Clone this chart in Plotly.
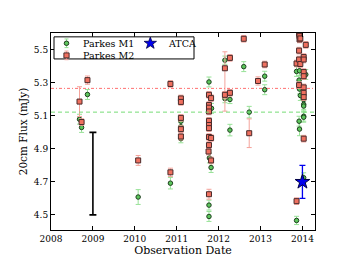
import math
import plotly.graph_objects as go

# ---- data ----
m1_x = [2008.68, 2008.73, 2008.87, 2010.08, 2010.85,
        2011.10, 2011.10, 2011.10, 2011.10,
        2011.77, 2011.83, 2011.78, 2011.82, 2011.77, 2011.77,
        2012.15, 2012.15, 2012.27, 2012.27,
        2012.60, 2012.73, 2013.10, 2013.10,
        2013.86, 2013.86,
        2013.93, 2013.92, 2013.93, 2013.92, 2013.93, 2013.95,
        2014.03, 2014.03, 2014.03, 2014.03, 2014.03, 2014.03,
        2014.08]
m1_y = [5.080, 5.030, 5.230, 4.608, 4.692,
        5.195, 5.068, 5.034, 4.962,
        5.306, 5.146, 4.845, 4.787, 4.559, 4.490,
        5.438, 5.205, 5.200, 5.014,
        5.399, 5.123, 5.341, 5.259,
        5.370, 4.466,
        5.374, 5.317, 5.263, 5.068, 5.020, 5.224,
        5.200, 5.170, 5.160, 5.098, 5.092, 4.725,
        5.351]
m1_err = [0.03, 0.03, 0.03, 0.045, 0.035,
          0.025, 0.025, 0.025, 0.025,
          0.03, 0.03, 0.03, 0.03, 0.03, 0.03,
          0.025, 0.025, 0.025, 0.035,
          0.03, 0.035, 0.03, 0.03,
          0.03, 0.025,
          0.03, 0.03, 0.03, 0.03, 0.04, 0.03,
          0.03, 0.03, 0.03, 0.03, 0.03, 0.03,
          0.03]

m2_x = [2008.68, 2008.73, 2008.87,
        2010.08, 2010.85, 2010.85,
        2011.10, 2011.10, 2011.10, 2011.10, 2011.10,
        2011.77, 2011.82, 2011.77, 2011.77, 2011.77, 2011.77, 2011.77, 2011.77,
        2011.77, 2011.82, 2011.77, 2011.76, 2011.82, 2011.77,
        2012.15, 2012.15, 2012.27, 2012.27,
        2012.60, 2012.73, 2012.94, 2013.10,
        2013.86, 2013.86,
        2013.92, 2013.93, 2013.93, 2013.92, 2013.92, 2013.92, 2013.95, 2013.95,
        2014.03, 2014.03, 2014.03, 2014.03, 2014.03, 2014.03, 2014.03, 2014.03,
        2014.08]
m2_y = [5.187, 5.063, 5.317,
        4.830, 4.758, 5.294,
        5.206, 5.185, 5.088, 5.020, 4.975,
        5.228, 5.208, 5.166, 5.150, 5.127, 5.070, 5.045, 5.026,
        4.972, 4.966, 4.923, 4.884, 4.830, 4.625,
        5.389, 5.228, 5.452, 5.240,
        5.568, 4.995, 5.312, 5.412,
        5.418, 4.583,
        5.597, 5.584, 5.564, 5.496, 5.442, 5.287, 5.570, 5.415,
        5.457, 5.442, 5.366, 5.341, 5.273, 5.240, 5.214, 4.962,
        5.531]
m2_err_plus = [0.09, 0.02, 0.025,
               0.03, 0.025, 0.02,
               0.02, 0.02, 0.02, 0.02, 0.02,
               0.02, 0.02, 0.02, 0.02, 0.02, 0.02, 0.02, 0.02,
               0.02, 0.02, 0.02, 0.02, 0.02, 0.03,
               0.10, 0.02, 0.02, 0.02,
               0.02, 0.087, 0.025, 0.02,
               0.02, 0.02,
               0.02, 0.02, 0.02, 0.02, 0.02, 0.02, 0.02, 0.02,
               0.02, 0.02, 0.02, 0.02, 0.02, 0.02, 0.02, 0.02,
               0.02]
m2_err_minus = list(m2_err_plus)
m2_err_minus[25] = 0.26

atca_x = [2014.0]
atca_y = [4.70]
atca_err = [0.10]

scale_x = [2009.0]
scale_y = [4.75]
scale_err = [0.25]

m1_mean = 5.123
m2_mean = 5.267

x_ticks = [2008, 2009, 2010, 2011, 2012, 2013, 2014]
y_ticks = [4.5, 4.7, 4.9, 5.1, 5.3, 5.5]

series_names = ["Parkes M1", "Parkes M2", "ATCA"]

FONT = "DejaVu Serif"
M1_FILL, M1_EDGE, M1_ERR = "#5cc65c", "#1f3f1f", "#98e298"
M2_FILL, M2_EDGE, M2_ERR = "#f0705f", "#4a2a2a", "#f4a39b"
ATCA_COL, ATCA_EDGE = "#0000ee", "#000044"

W, H = 341, 257
ML, MR, MT, MB = 43, 34, 25, 27
PW, PH = W - ML - MR, H - MT - MB


def px2paper(px, py):
    return (px - ML) / PW, (H - MB - py) / PH


fig = go.Figure()

fig.add_trace(go.Scatter(
    x=scale_x, y=scale_y, mode="markers",
    marker=dict(size=1, color="rgba(0,0,0,0)"),
    error_y=dict(type="data", array=scale_err, color="black", thickness=1.6, width=3.5),
    showlegend=False, hoverinfo="skip"))

fig.add_trace(go.Scatter(
    x=m1_x, y=m1_y, mode="markers", name=series_names[0], showlegend=False,
    marker=dict(symbol="circle", size=4.5, color=M1_FILL, line=dict(color=M1_EDGE, width=1)),
    error_y=dict(type="data", array=m1_err, color=M1_ERR, thickness=1, width=2.5)))

fig.add_trace(go.Scatter(
    x=m2_x, y=m2_y, mode="markers", name=series_names[1], showlegend=False,
    marker=dict(symbol="square", size=5, color=M2_FILL, line=dict(color=M2_EDGE, width=1)),
    error_y=dict(type="data", symmetric=False, array=m2_err_plus, arrayminus=m2_err_minus,
                 color=M2_ERR, thickness=1, width=2.5)))

fig.add_trace(go.Scatter(
    x=atca_x, y=atca_y, mode="markers", name=series_names[2], showlegend=False,
    marker=dict(symbol="star", size=11, color=ATCA_COL, line=dict(color=ATCA_EDGE, width=1)),
    error_y=dict(type="data", array=atca_err, color=ATCA_COL, thickness=1.3, width=3)))

fig.add_shape(type="line", xref="paper", x0=0, x1=1, yref="y", y0=m2_mean, y1=m2_mean,
              line=dict(color="#ff7070", width=1, dash="3px,2px,1px,2px"))
fig.add_shape(type="line", xref="paper", x0=0, x1=1, yref="y", y0=m1_mean, y1=m1_mean,
              line=dict(color="#77dd77", width=1, dash="4px,3px"))

# ---- manual legend (frame, keys, labels) ----
bx0, by0 = px2paper(46, 52)
bx1, by1 = px2paper(186, 29)
fig.add_shape(type="rect", xref="paper", yref="paper", x0=bx0, x1=bx1, y0=by0, y1=by1,
              line=dict(color="black", width=1), fillcolor="white", layer="above")


def key_errbar(cx, cy, half, color):
    x0, y0 = px2paper(cx, cy - half)
    x1, y1 = px2paper(cx, cy + half)
    fig.add_shape(type="line", xref="paper", yref="paper", x0=x0, x1=x0, y0=y0, y1=y1,
                  line=dict(color=color, width=1), layer="above")
    for yy in (cy - half, cy + half):
        a0, b0 = px2paper(cx - 2, yy)
        a1, _ = px2paper(cx + 2, yy)
        fig.add_shape(type="line", xref="paper", yref="paper", x0=a0, x1=a1, y0=b0, y1=b0,
                      line=dict(color=color, width=1), layer="above")


rows = [35.7, 48.3]
kx = 58.5
# M1 key
key_errbar(kx, rows[0], 4.5, M1_ERR)
a0, b0 = px2paper(kx - 2.3, rows[0] + 2.3)
a1, b1 = px2paper(kx + 2.3, rows[0] - 2.3)
fig.add_shape(type="circle", xref="paper", yref="paper", x0=a0, x1=a1, y0=b0, y1=b1,
              fillcolor=M1_FILL, line=dict(color=M1_EDGE, width=1), layer="above")
# M2 key
key_errbar(kx, rows[1], 4.5, M2_ERR)
a0, b0 = px2paper(kx - 2.6, rows[1] + 2.6)
a1, b1 = px2paper(kx + 2.6, rows[1] - 2.6)
fig.add_shape(type="rect", xref="paper", yref="paper", x0=a0, x1=a1, y0=b0, y1=b1,
              fillcolor=M2_FILL, line=dict(color=M2_EDGE, width=1), layer="above")
# ATCA key (star path)
sx, sy = 142.3, rows[0]
pts = []
for i in range(10):
    r = 6.5 if i % 2 == 0 else 2.6
    ang = math.pi / 2 + i * math.pi / 5
    px_, py_ = px2paper(sx + r * math.cos(ang), sy - r * math.sin(ang))
    pts.append("%.5f,%.5f" % (px_, py_))
path = "M" + " L".join(pts) + " Z"
fig.add_shape(type="path", xref="paper", yref="paper", path=path,
              fillcolor=ATCA_COL, line=dict(color=ATCA_EDGE, width=0.8), layer="above")

for name, (tx, ty) in zip(series_names, [(74, rows[0]), (74, rows[1]), (158.5, rows[0])]):
    ax, ay = px2paper(tx, ty)
    fig.add_annotation(x=ax, y=ay, xref="paper", yref="paper", text=name, showarrow=False,
                       xanchor="left", yanchor="middle", font=dict(family=FONT, size=9.5),
                       xshift=-1)

fig.update_layout(
    width=W, height=H,
    margin=dict(l=ML, r=MR, t=MT, b=MB),
    paper_bgcolor="white", plot_bgcolor="white",
    font=dict(family=FONT, size=9, color="black"),
    showlegend=False,
)

fig.update_xaxes(
    range=[2008, 2014.3], tickvals=x_ticks, ticktext=[str(v) for v in x_ticks],
    ticks="inside", ticklen=4, tickcolor="black", showline=True, linecolor="black",
    linewidth=1, mirror="ticks", showgrid=False, zeroline=False,
    tickfont=dict(family=FONT, size=9),
    title=dict(text="Observation Date", font=dict(family=FONT, size=11), standoff=2))
fig.update_yaxes(
    range=[4.408, 5.603], tickvals=y_ticks, ticktext=["%.1f" % v for v in y_ticks],
    ticks="inside", ticklen=4, tickcolor="black", showline=True, linecolor="black",
    linewidth=1, mirror="ticks", showgrid=False, zeroline=False,
    tickfont=dict(family=FONT, size=9),
    title=dict(text="20cm Flux (mJy)", font=dict(family=FONT, size=10.5), standoff=4))

fig.write_html("out.html")
